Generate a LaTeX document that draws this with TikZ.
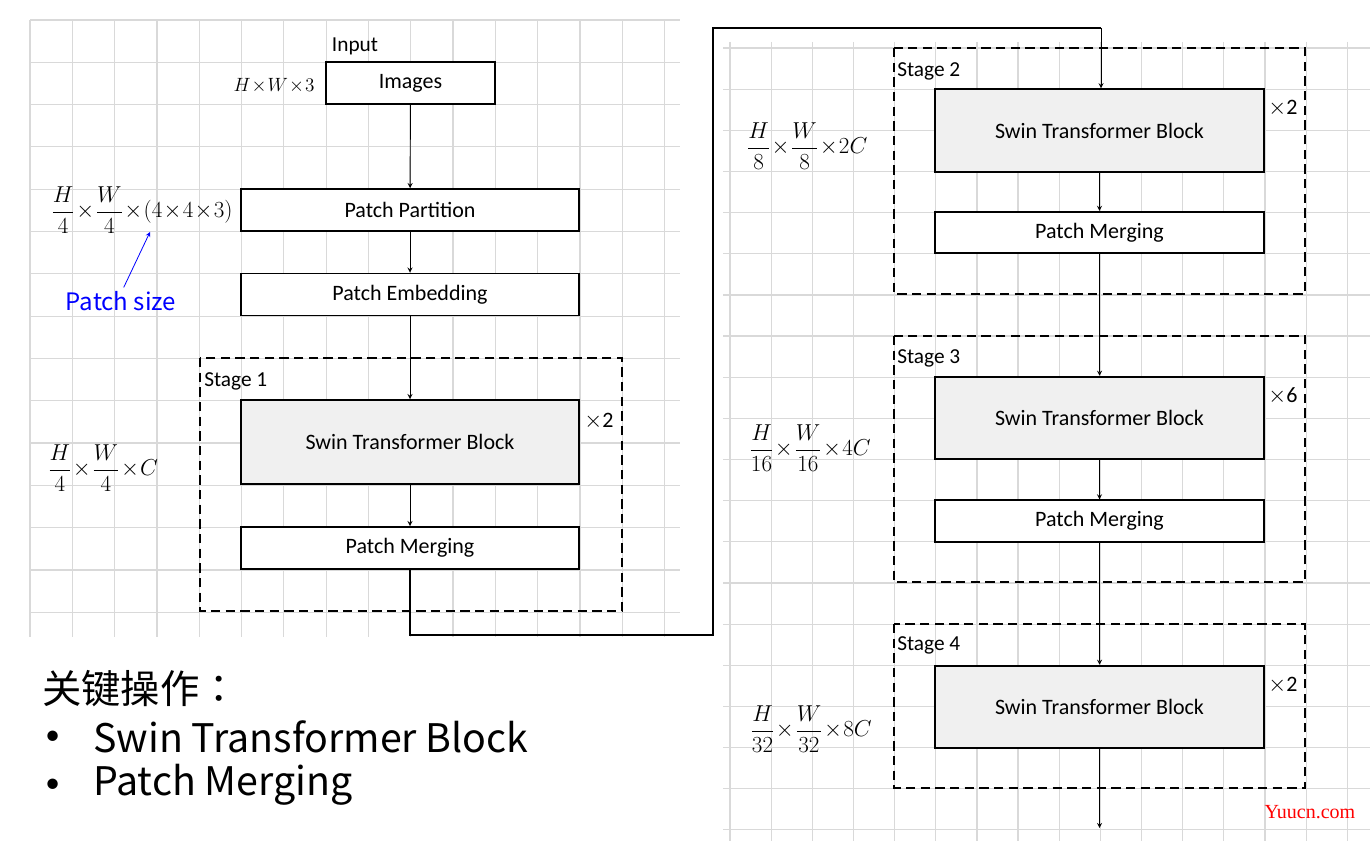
\documentclass[tikz,border=0pt]{standalone}
\usepackage{amsmath}
\usepackage{fontspec}
\setmainfont{Carlito}
\newfontfamily\cjkfont{Noto Sans CJK SC}
\newfontfamily\cjkpunct{Noto Sans CJK TC}
\newfontfamily\wmfont{Liberation Serif}
\definecolor{gridgray}{RGB}{217,217,217}
\definecolor{blkgray}{RGB}{240,240,240}
\tikzset{
	gridline/.style={gridgray, line width=0.9pt},
	box/.style={draw, line width=1.4pt, fill=white, inner sep=0pt, font=\fontsize{16.5}{19}\selectfont},
	lbox/.style={box, minimum width=253.5pt, minimum height=31.5pt},
	rbox/.style={box, minimum width=246.75pt, minimum height=31pt},
	swinl/.style={lbox, fill=blkgray, minimum height=63pt},
	swinr/.style={rbox, fill=blkgray, minimum height=62pt},
	stagebox/.style={draw, dashed, line width=1.4pt, dash pattern=on 7pt off 4pt},
	stagelbl/.style={anchor=west, inner sep=0pt, font=\fontsize{16}{19}\selectfont},
	rep/.style={inner sep=0pt, font=\fontsize{16.5}{19}\selectfont},
	dims/.style={inner sep=0pt, font=\fontsize{16}{19}\selectfont},
	keytxt/.style={anchor=west, inner sep=0pt, font=\cjkfont\fontsize{29.5}{34}\selectfont},
	wire/.style={line width=1.5pt}
}
\begin{document}
\begin{tikzpicture}[x=0.75pt, y=-0.75pt, >=stealth, line join=miter]
		\useasboundingbox (0,0) rectangle (1370,866);
		% grids
		\foreach \i in {0,...,15} \draw[gridline] ({30+42.3*\i},20)--({30+42.3*\i},637);
		\foreach \j in {0,...,14} \draw[gridline] (30,{20+42.3*\j})--(680,{20+42.3*\j});
		\foreach \i in {0,...,15} \draw[gridline] ({730+41.15*\i},42)--({730+41.15*\i},841);
		\foreach \j in {0,...,19} \draw[gridline] (723,{48+41.15*\j})--(1370,{48+41.15*\j});
		% stage frames
		\draw[stagebox] (200,358) rectangle (622,611);
		\draw[stagebox] (894,48) rectangle (1305,294);
		\draw[stagebox] (894,336) rectangle (1305,582);
		\draw[stagebox] (894,624) rectangle (1305,788);
		\node[stagelbl] (s1) at (204,381) {Stage 1};
		\node[stagelbl] (s2) at (897,71) {Stage 2};
		\node[stagelbl] (s3) at (897,358) {Stage 3};
		\node[stagelbl] (s4) at (897,645) {Stage 4};
		% left column
		\node[inner sep=0pt, font=\fontsize{16}{19}\selectfont] (inp) at (355,46) {Input};
		\node[box, minimum width=126.75pt, minimum height=31.5pt] (img) at (410.5,83) {Images};
		\node[lbox] (pp) at (410,210) {Patch Partition};
		\node[lbox] (pe) at (410,294.5) {Patch Embedding};
		\node[swinl] (stb1) at (410,442) {Swin Transformer Block};
		\node[lbox] (pm1) at (410,548) {Patch Merging};
		\node[rep] (r1) at (599,421) {$\times$2};
		% right column
		\node[swinr] (stb2) at (1099.5,130.5) {Swin Transformer Block};
		\node[rbox] (pm2) at (1099.5,232.5) {Patch Merging};
		\node[swinr] (stb3) at (1099.5,418) {Swin Transformer Block};
		\node[rbox] (pm3) at (1099.5,521) {Patch Merging};
		\node[swinr] (stb4) at (1099.5,707) {Swin Transformer Block};
		\node[rep] (r2) at (1283,108) {$\times$2};
		\node[rep] (r3) at (1283,396) {$\times$6};
		\node[rep] (r4) at (1283,685) {$\times$2};
		% sizes
		\node[dims, font=\fontsize{14.5}{17}\selectfont] (d0) at (274,86) {$H\!\times\! W\!\times\! 3$};
		\node[dims, font=\fontsize{17.5}{20}\selectfont] (d1) at (142,210) {$\dfrac{H}{4}\!\times\!\dfrac{W}{4}\!\times\!(4\!\times\!4\!\times\!3)$};
		\node[dims] (d2) at (103,468) {$\dfrac{H}{4}\!\times\!\dfrac{W}{4}\!\times\! C$};
		\node[dims] (d3) at (807,146) {$\dfrac{H}{8}\!\times\!\dfrac{W}{8}\!\times\! 2C$};
		\node[dims, font=\fontsize{17}{20}\selectfont] (d4) at (810,448) {$\dfrac{H}{16}\!\times\!\dfrac{W}{16}\!\times\! 4C$};
		\node[dims, font=\fontsize{17}{20}\selectfont] (d5) at (811,729) {$\dfrac{H}{32}\!\times\!\dfrac{W}{32}\!\times\! 8C$};
		\node[blue, inner sep=0pt, font=\cjkfont\fontsize{18}{21}\selectfont] (psize) at (121,301) {Patch size};
		\coordinate (ps) at (150,232);
		\draw[->, blue, line width=0.6pt, shorten <=3pt] (psize.north) ++(1,0) -- (ps);
		% connectors
		\draw[->, line width=0.7pt] (img)--(pp);
		\draw[->, line width=0.7pt] (pp)--(pe);
		\draw[->, line width=0.7pt] (pe)--(stb1);
		\draw[->, line width=0.7pt] (stb1)--(pm1);
		\coordinate (c1) at (713,635);
		\coordinate (c2) at (713,28);
		\coordinate (c3) at (1101,28);
		\draw[wire] (pm1.south) |- (c1) -- (c2) -- (c3);
		\draw[->, line width=0.7pt] (c3) -- (stb2.north -| c3);
		\draw[->, line width=0.7pt] (stb2)--(pm2);
		\draw[->, line width=0.7pt] (pm2)--(stb3);
		\draw[->, line width=0.7pt] (stb3)--(pm3);
		\draw[->, line width=0.7pt] (pm3)--(stb4);
		\coordinate (out) at (1099.5,828);
		\draw[->, line width=0.7pt] (stb4)--(out);
		% key operations
		\node[keytxt] (key) at (42,689) {关键操作{\cjkpunct ：}};
		\node[keytxt, font=\fontsize{22}{26}\selectfont] (b1) at (45,738) {\textbullet};
		\node[keytxt] (k1) at (93,737) {Swin Transformer Block};
		\node[keytxt, font=\fontsize{22}{26}\selectfont] (b2) at (45,786) {\textbullet};
		\node[keytxt] (k2) at (93,785) {Patch Merging};
		\node[red, inner sep=0pt, font=\wmfont\fontsize{15}{18}\selectfont] (wm) at (1310,812) {Yuucn.com};
\end{tikzpicture}
\end{document}
